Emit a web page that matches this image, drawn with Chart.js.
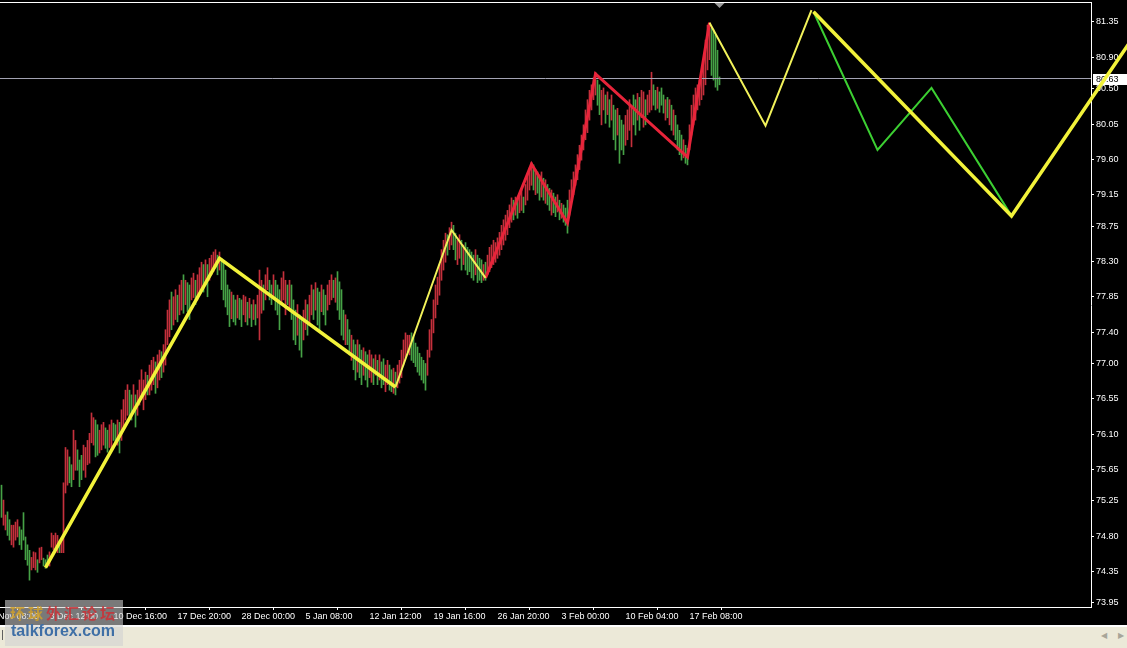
<!DOCTYPE html>
<html>
<head>
<meta charset="utf-8">
<title>H4 zigzag</title>
<script src="https://cdn.jsdelivr.net/npm/chart.js@4.4.1/dist/chart.umd.min.js"></script>
<style>
  body { margin: 0; width: 1127px; height: 648px; overflow: hidden; background: #ece9d8; position: relative; }
  #wrap { width: 1127px; height: 625px; background: #000; }
  #c { display: block; }
  .sep { height: 2px; background: #fff; }
  .status { height: 21px; background: #ece9d8; position: relative; }
  .status .bar { position: absolute; left: 2px; top: 3px; width: 1px; height: 10px; background: #606060; }
  .status .arr { position: absolute; top: 4px; font: 8px 'DejaVu Sans', sans-serif; color: #a8a598; }
  #mark { position: absolute; left: 5px; top: 600px; width: 118px; height: 46px; background: rgba(208, 208, 208, 0.58); }
  #mark .cn { position: absolute; left: 5px; top: 2px; font: bold 15px 'Noto Sans CJK SC', sans-serif; letter-spacing: 3px; white-space: nowrap; opacity: 0.85; }
  #mark .cn .g { color: #d0a02a; }
  #mark .cn .r { color: #cc3036; }
  #mark .en { position: absolute; left: 6px; top: 22px; font: bold 16px 'Liberation Sans', Arial, sans-serif; color: #3f6fa6; }
</style>
</head>
<body>
<div id="wrap"><canvas id="c" width="1127" height="625"></canvas></div>
<div class="sep"></div>
<div class="status"><div class="bar"></div><span class="arr" style="left:1101px">&#9664;</span><span class="arr" style="left:1118px">&#9654;</span></div>
<div id="mark">
  <div class="cn"><span class="g">环球</span><span class="r">外汇论坛</span></div>
  <div class="en">talkforex.com</div>
</div>
<script>
// H4 bars, index 0 = first bar on screen. red = up, green = down
const highs = [
  75.45,75.26,75.07,75.11,75.01,74.94,74.94,74.98,75.01,74.92,
  74.88,75.10,74.79,74.69,74.62,74.53,74.60,74.59,74.50,74.65,
  74.66,74.52,74.50,74.56,74.60,74.84,74.81,74.84,74.81,74.75,
  74.78,75.48,75.93,75.90,75.81,75.71,76.15,76.02,75.90,75.77,
  75.83,75.96,75.93,76.02,76.11,76.37,76.31,76.28,76.22,76.15,
  76.22,76.25,76.18,76.15,76.22,76.28,76.24,76.22,76.28,76.25,
  76.41,76.54,76.66,76.73,76.66,76.60,76.73,76.60,76.66,76.79,
  76.92,76.79,76.89,76.85,76.98,77.04,77.08,77.02,77.11,77.17,
  77.15,77.24,77.43,77.68,77.81,77.91,77.85,77.94,77.87,78.00,
  78.06,78.13,78.06,78.03,78.00,78.09,78.15,78.06,78.13,78.22,
  78.29,78.26,78.32,78.26,78.34,78.38,78.42,78.45,78.38,78.42,
  78.34,78.28,78.19,78.00,77.94,77.91,77.87,77.81,77.87,77.83,
  77.81,77.87,77.85,77.78,77.83,77.75,77.81,77.75,77.87,78.19,
  78.06,78.00,78.13,78.22,78.06,78.00,78.13,78.06,78.00,77.94,
  78.09,78.17,78.06,78.00,78.06,78.00,77.81,77.68,77.75,77.62,
  77.56,77.68,77.81,77.75,77.87,78.00,77.94,78.03,77.96,77.91,
  78.00,77.94,77.87,78.00,78.06,78.13,78.06,78.09,78.17,78.04,
  77.94,77.68,77.62,77.56,77.43,77.36,77.30,77.24,77.30,77.24,
  77.17,77.20,77.15,77.11,77.17,77.11,77.06,77.11,77.04,77.11,
  77.02,77.06,76.98,77.04,76.98,76.92,76.94,76.89,76.98,77.04,
  77.17,77.30,77.39,77.36,77.36,77.39,77.34,77.26,77.21,77.13,
  77.08,77.04,77.00,77.17,77.43,77.56,77.81,78.00,78.10,78.26,
  78.45,78.57,78.66,78.64,78.73,78.80,78.76,78.66,78.57,78.64,
  78.57,78.51,78.54,78.48,78.45,78.42,78.38,78.45,78.38,78.34,
  78.32,78.26,78.29,78.38,78.48,78.51,78.57,78.54,78.60,78.67,
  78.76,78.83,78.89,78.95,79.02,79.11,79.08,79.12,79.08,79.15,
  79.21,79.12,79.28,79.40,79.49,79.56,79.53,79.47,79.44,79.40,
  79.44,79.36,79.34,79.28,79.23,79.21,79.17,79.12,79.15,79.08,
  79.04,79.02,78.98,79.08,79.21,79.34,79.44,79.53,79.66,79.78,
  79.91,80.04,80.23,80.36,80.48,80.55,80.64,80.71,80.61,80.55,
  80.48,80.51,80.42,80.46,80.36,80.42,80.29,80.23,80.25,80.16,
  80.10,80.04,80.16,80.23,80.36,80.27,80.42,80.36,80.44,80.39,
  80.48,80.46,80.36,80.42,80.48,80.71,80.55,80.48,80.52,80.46,
  80.51,80.42,80.36,80.39,80.36,80.29,80.23,80.16,80.04,79.97,
  79.91,79.85,79.78,79.74,80.04,80.29,80.42,80.51,80.55,80.61,
  80.71,80.87,81.12,81.31,81.34,81.27,81.25,81.18,80.99,80.65
];
const lows = [
  75.04,74.94,74.88,74.81,74.75,74.69,74.66,74.75,74.79,74.69,
  74.63,74.75,74.50,74.43,74.24,74.37,74.40,74.37,74.34,74.46,
  74.50,74.42,74.39,74.42,74.42,74.66,74.63,74.63,74.59,74.59,
  74.59,74.59,75.35,75.45,75.48,75.43,75.52,75.64,75.64,75.43,
  75.52,75.64,75.55,75.71,75.73,75.99,75.96,75.81,75.83,75.86,
  75.90,75.96,75.92,75.87,75.93,75.90,76.02,76.00,75.96,75.86,
  76.02,76.18,76.28,76.34,76.31,76.28,76.41,76.19,76.34,76.47,
  76.54,76.41,76.54,76.60,76.60,76.66,76.73,76.62,76.69,76.79,
  76.82,76.89,76.98,77.24,77.34,77.43,77.49,77.56,77.53,77.62,
  77.68,77.64,77.75,77.66,77.56,77.81,77.84,77.75,77.81,77.87,
  77.94,77.91,78.00,77.85,78.06,78.13,78.17,78.22,78.13,78.19,
  77.94,77.81,77.72,77.62,77.47,77.57,77.53,77.49,77.58,77.56,
  77.47,77.62,77.53,77.49,77.58,77.47,77.56,77.49,77.58,77.30,
  77.64,77.68,77.81,77.94,77.81,77.75,77.84,77.68,77.62,77.43,
  77.75,77.81,77.62,77.75,77.68,77.56,77.30,77.24,77.36,77.17,
  77.08,77.30,77.43,77.36,77.49,77.62,77.56,77.68,77.49,77.43,
  77.66,77.62,77.49,77.68,77.75,77.81,77.84,77.78,77.68,77.56,
  77.36,77.30,77.24,77.24,77.11,77.04,76.92,76.79,76.89,76.82,
  76.73,76.85,76.79,76.70,76.82,76.76,76.73,76.85,76.73,76.79,
  76.69,76.73,76.64,76.73,76.66,76.64,76.62,76.60,76.69,76.75,
  76.82,76.98,77.08,77.15,77.11,77.04,77.01,76.96,76.89,76.85,
  76.79,76.75,76.66,76.85,77.08,77.17,77.39,77.58,77.75,77.87,
  78.06,78.19,78.29,78.38,78.45,78.51,78.45,78.32,78.26,78.34,
  78.19,78.26,78.19,78.13,78.17,78.09,78.06,78.13,78.03,78.06,
  78.03,78.06,78.06,78.13,78.17,78.22,78.26,78.29,78.34,78.38,
  78.45,78.51,78.57,78.64,78.73,78.80,78.83,78.89,78.85,78.92,
  78.95,78.92,79.02,79.08,79.21,79.27,79.21,79.15,79.17,79.08,
  79.12,79.08,79.04,79.02,78.95,78.89,78.92,78.87,78.93,78.83,
  78.85,78.80,78.76,78.66,78.89,79.08,79.15,79.27,79.34,79.47,
  79.59,79.72,79.85,79.94,80.10,80.23,80.36,80.42,80.29,80.17,
  80.04,80.23,80.06,80.17,80.01,80.10,79.85,79.72,79.91,79.55,
  79.72,79.66,79.78,79.85,79.97,79.76,80.04,79.91,80.10,79.97,
  80.13,80.01,80.04,80.17,80.20,80.23,80.29,80.23,80.25,80.20,
  80.29,80.19,80.10,80.13,80.04,79.97,79.91,79.85,79.72,79.66,
  79.59,79.62,79.55,79.53,79.72,79.91,80.04,80.10,80.23,80.29,
  80.36,80.42,80.55,80.74,80.87,80.67,80.61,80.52,80.48,80.55
];
const dirRows = [
  'GRRGGRRRRG','GGGGGRRRGR','RGGGRRRRRG','RRRRGGRRGG','GRRRRRRGGR','RRGGRRGGRG',
  'RRRRGGRGRR','RRRGRRRGRR','GRRRRGRRGR','RGRGGRRGRR','RGRGRRRRGR','GGGGGRGGRG',
  'GRRGRGRGRR','RGRRGGRGGG','RRRGRGGGRG','GRRGRRGRGG','RGGRRRGRGG','GGRGGRGGRG',
  'GRGGRRGRGR','GGRRGGRGRR','RRRRRGGGGG','GGGRRRRRRR','RRRGRRGGRR','GRGGGGGRGG',
  'GRGRRRRRRR','RRRRRRGRGR','RGRRRRGRGG','RGRGGRGGRG','RGGGRRRRRR','RRRRRRRRGG',
  'RRGRGRGGRG','GGRRRRGGRG','RRGRRRGGRG','GGRGRGRGGG','GRGGRRRRRR','RRRRRGGGGG'
];

// zigzag turning points (bar index, price)
const zzMainIdx = [22, 109, 197];
const zzMainPrice = [74.40, 78.34, 76.70];
const zzMinorIdx = [197, 225, 242];
const zzMinorPrice = [76.70, 78.70, 78.09];
const zzRedIdx = [242, 265, 283, 297, 343, 354];
const zzRedPrice = [78.09, 79.54, 78.79, 80.69, 79.63, 81.34];
// projected legs to the right of the last bar
const projThinIdx = [354, 382, 405];
const projThinPrice = [81.34, 80.03, 81.50];
const projThickIdx = [406, 505, 574];
const projThickPrice = [81.48, 78.88, 81.46];
const projGreenIdx = [406, 438, 465, 505];
const projGreenPrice = [81.48, 79.72, 80.51, 78.88];

const bidPrice = 80.63;
const shiftIdx = 359;

const yTicks = [81.35, 80.90, 80.50, 80.05, 79.60, 79.15, 78.75, 78.30, 77.85, 77.40,
  77.00, 76.55, 76.10, 75.65, 75.25, 74.80, 74.35, 73.95];
const timeTickIdx = [-8, 24, 56, 88, 120, 152, 184, 216, 248, 280, 312, 344];
const timeLabels = ['26 Nov 08:00', '3 Dec 12:00', '10 Dec 16:00', '17 Dec 20:00', '28 Dec 00:00',
  '5 Jan 08:00', '12 Jan 12:00', '19 Jan 16:00', '26 Jan 20:00', '3 Feb 00:00', '10 Feb 04:00', '17 Feb 08:00'];

const yMin = 73.898, yMax = 81.592;
// 2 px per bar, bar centres on half pixels
const xMin = -0.75, xMax = 544.75;

const upColor = '#c4303c';
const downColor = '#46a246';

Chart.defaults.font.family = "'Liberation Sans', Arial, sans-serif";
Chart.defaults.font.size = 9;
Chart.defaults.color = '#fff';

const dirs = dirRows.join('');
const barData = highs.map((h, i) => ({ x: i, y: [lows[i], h] }));
const barColors = barData.map((b, i) => dirs[i] === 'R' ? upColor : downColor);
const pts = (idx, price) => idx.map((x, k) => ({ x: x, y: price[k] }));

function zigLine(data, color, width, order, clip) {
  const ds = {
    type: 'line', data: data, borderColor: color, borderWidth: width,
    pointRadius: 0, tension: 0, fill: false, order: order
  };
  if (clip === false) ds.clip = false;
  return ds;
}

const chartExtras = {
  id: 'chartExtras',
  beforeDatasetsDraw(chart) {
    const { ctx, chartArea } = chart;
    ctx.save();
    // top frame line
    ctx.strokeStyle = '#fff';
    ctx.lineWidth = 1;
    ctx.beginPath();
    ctx.moveTo(0, chartArea.top - 0.5);
    ctx.lineTo(chartArea.right + 1, chartArea.top - 0.5);
    ctx.stroke();
    // bid price tag on the axis
    const py = Math.round(chart.scales.y.getPixelForValue(bidPrice));
    ctx.fillStyle = '#fff';
    ctx.fillRect(chartArea.right + 2, py - 5, 36, 11);
    ctx.fillStyle = '#000';
    ctx.font = "9px 'Liberation Sans', Arial, sans-serif";
    ctx.textBaseline = 'middle';
    ctx.fillText(bidPrice.toFixed(2), chartArea.right + 5, py + 0.5);
    ctx.restore();
  },
  afterDraw(chart) {
    const { ctx, chartArea } = chart;
    const sx = chart.scales.x.getPixelForValue(shiftIdx);
    ctx.save();
    ctx.fillStyle = '#9a9a9a';
    ctx.beginPath();
    ctx.moveTo(sx - 5, chartArea.top);
    ctx.lineTo(sx + 5, chartArea.top);
    ctx.lineTo(sx, chartArea.top + 5);
    ctx.closePath();
    ctx.fill();
    ctx.restore();
  }
};

new Chart(document.getElementById('c'), {
  type: 'bar',
  data: {
    datasets: [
      zigLine(pts(projThickIdx, projThickPrice), '#f2f23a', 3.5, 1, false),
      zigLine(pts(projGreenIdx, projGreenPrice), '#3ccf32', 2, 2),
      zigLine(pts(projThinIdx, projThinPrice), '#f2f25a', 2, 1),
      zigLine(pts(zzMainIdx, zzMainPrice), '#f2f23a', 3.5, 1),
      zigLine(pts(zzMinorIdx, zzMinorPrice), '#f2f25a', 2, 1),
      zigLine(pts(zzRedIdx, zzRedPrice), '#e8243a', 3, 1),
      zigLine([{ x: xMin, y: bidPrice }, { x: xMax, y: bidPrice }], '#a4a4b4', 1, 5),
      {
        type: 'bar', data: barData, backgroundColor: barColors,
        barThickness: 1, borderWidth: 0, grouped: false, order: 10
      }
    ]
  },
  options: {
    responsive: false,
    devicePixelRatio: 1,
    animation: false,
    layout: { padding: { top: 3, left: 0, right: 0, bottom: 0 } },
    plugins: { legend: { display: false }, tooltip: { enabled: false } },
    scales: {
      x: {
        type: 'linear', position: 'bottom', min: xMin, max: xMax, offset: false,
        afterBuildTicks: (s) => { s.ticks = timeTickIdx.map(v => ({ value: v })); },
        afterFit: (s) => { s.height = 18; s.paddingLeft = 0; s.paddingRight = 0; },
        ticks: {
          color: '#fff', padding: 1, align: 'start', maxRotation: 0, autoSkip: false,
          callback: (v, i) => timeLabels[i]
        },
        grid: { drawOnChartArea: false, drawTicks: true, tickLength: 3, color: '#fff' },
        border: { color: '#fff', width: 1 }
      },
      y: {
        type: 'linear', position: 'right', min: yMin, max: yMax,
        afterBuildTicks: (s) => { s.ticks = yTicks.map(v => ({ value: v })); },
        afterFit: (s) => { s.width = 36; s.paddingTop = 0; s.paddingBottom = 0; },
        ticks: { color: '#fff', padding: 2, autoSkip: false, callback: (v) => Number(v).toFixed(2) },
        grid: { drawOnChartArea: false, drawTicks: true, tickLength: 3, color: '#fff' },
        border: { color: '#fff', width: 1 }
      }
    }
  },
  plugins: [chartExtras]
});
</script>
</body>
</html>
